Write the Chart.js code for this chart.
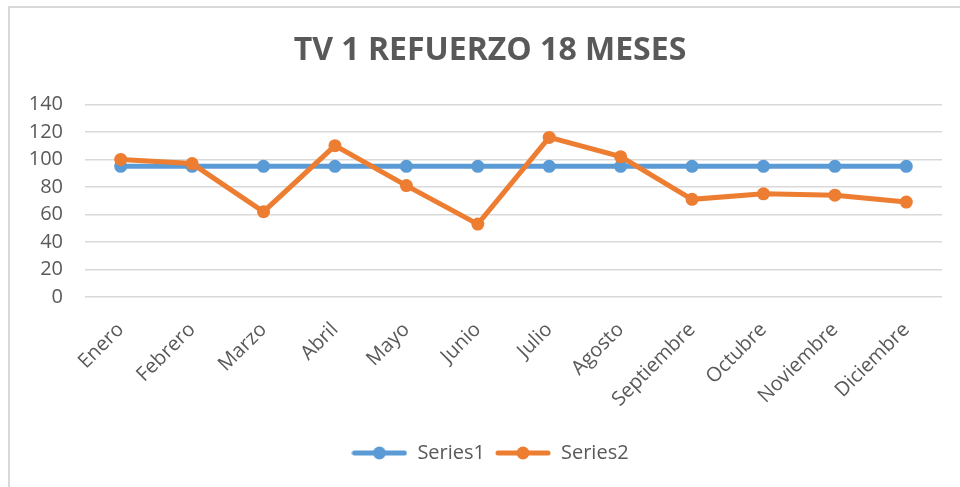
<!DOCTYPE html>
<html>
<head>
<meta charset="utf-8">
<script src="https://cdn.jsdelivr.net/npm/chart.js@4"></script>
<style>
  body { margin: 0; background: #fff; }
  #wrap { position: relative; width: 960px; height: 487px; overflow: hidden; }
  #frame { position: absolute; left: 8px; top: 6px; width: 1000px; height: 600px; border: 2px solid #d9d9d9; }
  canvas { position: absolute; left: 0; top: 0; }
</style>
</head>
<body>
<div id="wrap">
  <div id="frame"></div>
  <canvas id="chart" width="960" height="487"></canvas>
</div>
<script>
const months = ["Enero", "Febrero", "Marzo", "Abril", "Mayo", "Junio", "Julio", "Agosto", "Septiembre", "Octubre", "Noviembre", "Diciembre"];
const series1 = [95, 95, 95, 95, 95, 95, 95, 95, 95, 95, 95, 95];
const series2 = [100, 97, 62, 110, 81, 53, 116, 102, 71, 75, 74, 69];
const yTicks = [0, 20, 40, 60, 80, 100, 120, 140];

const BLUE = "#5B9BD5";
const ORANGE = "#ED7D31";
const GREY = "#595959";
const FONT = "'Open Sans', sans-serif";

// muestra de leyenda: linea con circulo
function legendSwatch(color) {
  const c = document.createElement("canvas");
  c.width = 56; c.height = 16;
  const g = c.getContext("2d");
  g.strokeStyle = color;
  g.lineWidth = 5;
  g.lineCap = "round";
  g.beginPath(); g.moveTo(3, 8); g.lineTo(53, 8); g.stroke();
  g.fillStyle = color;
  g.beginPath(); g.arc(28, 8, 6.5, 0, Math.PI * 2); g.fill();
  return c;
}

const ctx = document.getElementById("chart").getContext("2d");
new Chart(ctx, {
  type: "line",
  data: {
    labels: months,
    datasets: [
      {
        label: "Series1",
        data: series1,
        borderColor: BLUE,
        backgroundColor: BLUE,
        borderWidth: 5,
        pointRadius: 6.5,
        pointBorderWidth: 0,
        tension: 0,
        order: 1
      },
      {
        label: "Series2",
        data: series2,
        borderColor: ORANGE,
        backgroundColor: ORANGE,
        borderWidth: 5,
        pointRadius: 6.5,
        pointBorderWidth: 0,
        tension: 0,
        order: 0
      }
    ]
  },
  options: {
    responsive: false,
    animation: false,
    layout: { padding: { left: 20, right: 0, top: 24, bottom: 14 } },
    plugins: {
      tooltip: { enabled: false },
      title: {
        display: true,
        text: "TV 1 REFUERZO 18 MESES",
        color: GREY,
        font: { family: FONT, size: 32, weight: "bold" },
        padding: { top: 8, bottom: 34 }
      },
      legend: {
        position: "bottom",
        labels: {
          color: GREY,
          font: { family: FONT, size: 20 },
          usePointStyle: true,
          pointStyleWidth: 56,
          padding: 10,
          generateLabels: chart => chart.data.datasets.map((ds, i) => ({
            text: ds.label,
            fontColor: GREY,
            pointStyle: legendSwatch(ds.borderColor),
            datasetIndex: i,
            lineWidth: 0
          }))
        }
      }
    },
    scales: {
      x: {
        offset: true,
        grid: { display: false },
        border: { display: false },
        ticks: {
          color: GREY,
          font: { family: FONT, size: 20 },
          minRotation: 45,
          maxRotation: 45,
          padding: 13
        },
        afterFit: scale => { scale.height = 136; }
      },
      y: {
        min: 0,
        max: 140,
        afterBuildTicks: scale => { scale.ticks = yTicks.map(v => ({ value: v })); },
        grid: { color: "#d9d9d9", lineWidth: 1.5, drawTicks: false },
        border: { display: false },
        ticks: {
          color: GREY,
          font: { family: FONT, size: 20 },
          padding: 22
        },
        afterFit: scale => { scale.width = 65; }
      },
      // eje vacio a la derecha, solo para dejar margen
      yRight: {
        position: "right",
        min: 0,
        max: 140,
        grid: { display: false },
        border: { display: false },
        ticks: { display: false },
        afterFit: scale => { scale.width = 18; }
      }
    }
  }
});
</script>
</body>
</html>
